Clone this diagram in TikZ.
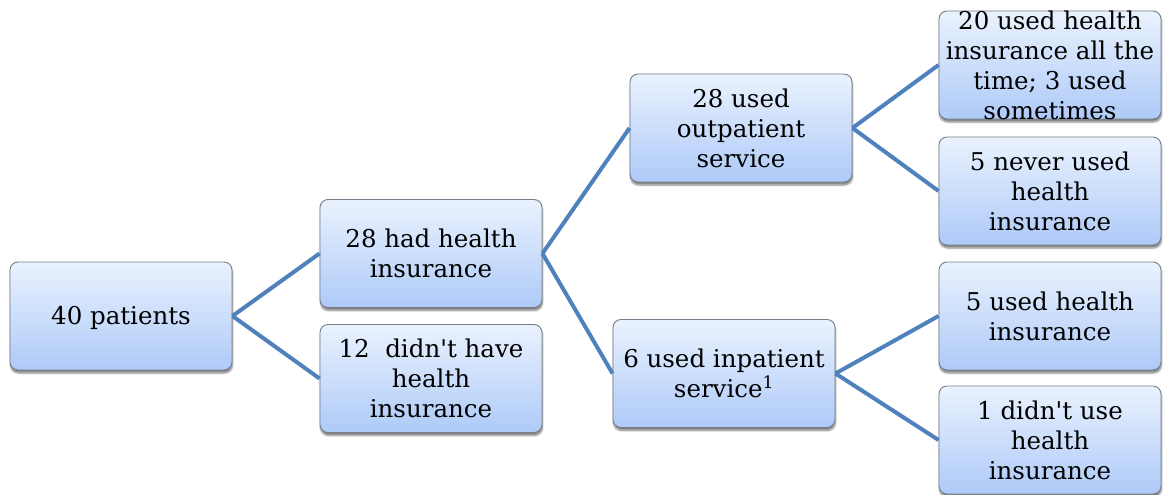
\documentclass[tikz,border=0pt]{standalone}
\usepackage{fontspec}
\newfontfamily\boxfont{DejaVu Serif}
\usetikzlibrary{shadows.blur}
\definecolor{linkblue}{RGB}{79,129,189}
\definecolor{boxtop}{RGB}{234,242,254}
\definecolor{boxbot}{RGB}{174,202,248}
\definecolor{boxedge}{RGB}{118,126,138}
\begin{document}
\begin{tikzpicture}[x=1pt,y=-1pt,
  box/.style={draw=boxedge, line width=0.9pt, rounded corners=8pt,
    top color=boxtop, bottom color=boxbot,
    minimum width=222pt, minimum height=108pt, inner sep=0pt,
    blur shadow={shadow xshift=0.5pt, shadow yshift=-3pt, shadow blur steps=6, shadow opacity=50}},
  txt/.style={align=center, inner sep=0pt, font=\boxfont\fontsize{24.5}{30}\selectfont},
  link/.style={draw=linkblue, line width=4pt}]
\useasboundingbox (0,0) rectangle (1168,495);

\node[box] (A) at (121,316) {};
\node[box] (B) at (431,253.5) {};
\node[box] (C) at (431,378.5) {};
\node[box] (D) at (741,128) {};
\node[box] (E) at (724,373.5) {};
\node[box] (F) at (1050,65) {};
\node[box] (G) at (1050,191) {};
\node[box] (H) at (1050,316) {};
\node[box] (I) at (1050,440) {};

\node[txt] (At) at ([yshift=-2pt]A.center) {40 patients};
\node[txt] (Bt) at (B) {28 had health\\insurance};
\node[txt] (Ct) at (C) {12\ \ didn\textquotesingle t have\\health\\insurance};
\node[txt] (Dt) at (D) {28 used\\outpatient\\service};
\node[txt] (Et) at (E) {6 used inpatient\\service\textsuperscript{1}};
\node[txt] (Ft) at (F) {20 used health\\insurance all the\\time; 3 used\\sometimes};
\node[txt] (Gt) at (G) {5 never used\\health\\insurance};
\node[txt] (Ht) at (H) {5 used health\\insurance};
\node[txt] (It) at (I) {1 didn\textquotesingle t use\\health\\insurance};

\draw[link] (A.east) -- (B.west);
\draw[link] (A.east) -- (C.west);
\draw[link] (B.east) -- (D.west);
\draw[link] (B.east) -- (E.west);
\draw[link] (D.east) -- (F.west);
\draw[link] (D.east) -- (G.west);
\draw[link] (E.east) -- (H.west);
\draw[link] (E.east) -- (I.west);
\end{tikzpicture}
\end{document}
